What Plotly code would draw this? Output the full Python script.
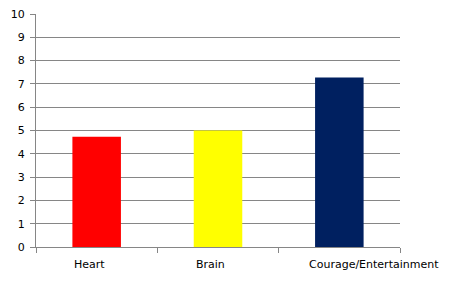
import plotly.graph_objects as go

categories = ["Heart", "Brain", "Courage/Entertainment"]
values = [4.73, 5.0, 7.27]
colors = ["#FF0000", "#FFFF00", "#002060"]
label_shifts = [-7, -8, 35]
y_ticks = list(range(0, 11))

fig = go.Figure(go.Bar(x=categories, y=values, marker=dict(color=colors, line=dict(width=0))))

grey = "#868686"
font_family = "DejaVu Sans, Verdana, sans-serif"
fig.update_layout(
    width=463, height=291,
    margin=dict(l=36, r=63, t=14, b=44, autoexpand=False),
    paper_bgcolor="white", plot_bgcolor="white",
    bargap=0.6,
    showlegend=False,
    font=dict(family=font_family, size=11, color="#000000"),
)
fig.update_xaxes(
    range=[-0.5, len(categories) - 0.5],
    showline=True, linecolor=grey, linewidth=1,
    ticks="outside", tickson="boundaries", ticklen=5, tickcolor=grey,
    showgrid=False, showticklabels=False, automargin=False,
)
fig.update_yaxes(
    range=[0, 10], tickvals=y_ticks, showline=True, linecolor=grey, linewidth=1,
    ticks="outside", ticklen=5, tickcolor=grey,
    showgrid=True, gridcolor=grey, gridwidth=1, zeroline=False,
    tickfont=dict(size=11), ticklabelstandoff=3, automargin=False,
)
for cat, sh in zip(categories, label_shifts):
    fig.add_annotation(
        x=cat, y=0, xref="x", yref="paper", text=cat, showarrow=False,
        yanchor="top", yshift=-9, xshift=sh,
        font=dict(family=font_family, size=11, color="#000000"),
    )
fig.write_html("out.html")
